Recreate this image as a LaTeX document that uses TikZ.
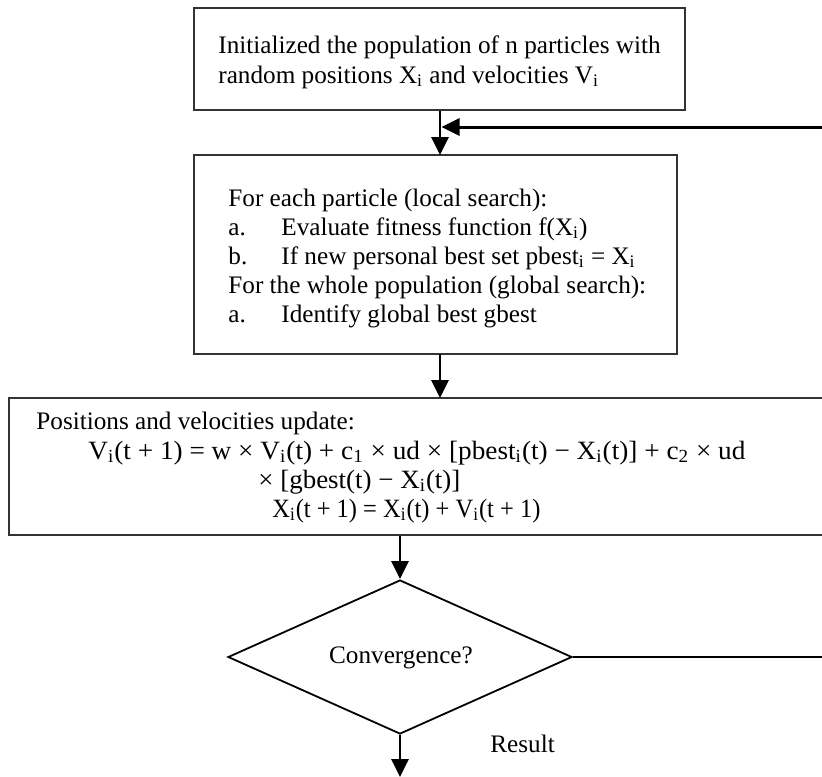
\documentclass[tikz,border=0pt]{standalone}
\usepackage{fontspec}
\setmainfont{Liberation Serif}
\usetikzlibrary{arrows.meta,shapes.geometric}
\newcommand{\sbi}[1]{\textsubscript{#1}}
% set a formula line to a given width, keeping its natural height
\newcommand{\eqline}[2]{\resizebox{#1}{\height}{#2}}
\begin{document}
\begin{tikzpicture}[x=0.5pt,y=-0.5pt,
  box/.style={draw=black!80,line width=1pt,rectangle,inner sep=0pt},
  arr/.style={line width=1.4pt,-{Triangle[length=9pt,width=8.5pt]}},
  txt/.style={anchor=base west,inner sep=0pt,font=\fontsize{12.6}{15}\selectfont},
  eq/.style={anchor=base west,inner sep=0pt,font=\fontsize{13.2}{15}\selectfont}]
\useasboundingbox (0,0) rectangle (822,776);
\clip (0,0) rectangle (822,776);
% process boxes
\node[box,minimum width=245.5pt,minimum height=51pt] (init) at (439.5,59) {};
\node[box,minimum width=241.5pt,minimum height=99.5pt] (eval) at (435.5,254.5) {};
\node[box,minimum width=420pt,minimum height=68.5pt] (upd) at (429,466.5) {};
\node[draw=black,line width=0.9pt,diamond,minimum width=172pt,minimum height=77pt,inner sep=0pt] (conv) at (400,657) {};
% texts
\node[txt] (t1) at (218,53) {Initialized the population of n particles with};
\node[txt] (t2) at (218,83) {random positions X\sbi{i} and velocities V\sbi{i}};
\node[txt] (e1) at (228,206) {For each particle (local search):};
\node[txt] (e2) at (228,235) {\makebox[26.5pt][l]{a.}Evaluate fitness function f(X\sbi{i})};
\node[txt] (e3) at (228,264) {\makebox[26.5pt][l]{b.}If new personal best set pbest\sbi{i} = X\sbi{i}};
\node[txt] (e4) at (228,293) {For the whole population (global search):};
\node[txt] (e5) at (228,322) {\makebox[26.5pt][l]{a.}Identify global best gbest};
\node[txt] (u1) at (36,429) {Positions and velocities update:};
\node[eq] (u2) at (88,459) {\eqline{328.5pt}{V\sbi{i}(t + 1) = w × V\sbi{i}(t) + c\sbi{1} × ud × [pbest\sbi{i}(t) − X\sbi{i}(t)] + c\sbi{2} × ud}};
\node[eq] (u3) at (258,488) {\eqline{101pt}{× [gbest(t) − X\sbi{i}(t)]}};
\node[eq] (u4) at (272,517) {\eqline{134pt}{X\sbi{i}(t + 1) = X\sbi{i}(t) + V\sbi{i}(t + 1)}};
\node[txt,anchor=base] (ct) at (401,663) {Convergence?};
\node[txt] (res) at (490,752) {Result};
% connectors
\coordinate (fbR) at (830,127);
\coordinate (fbL) at (441.5,127);
\coordinate (exitR) at (830,657);
\coordinate (out) at (400,777);
\draw[arr] (init.south -| 440,0) -- (440,155);
\draw[arr,line width=1.5pt] (fbR) -- (fbL);
\draw[arr] (440,354) -- (440,398);
\draw[arr] (conv.north |- upd.south) -- (conv.north);
\draw[line width=0.9pt] (conv.east) -- (exitR);
\draw[arr] (conv.south) -- (out);
\end{tikzpicture}
\end{document}
